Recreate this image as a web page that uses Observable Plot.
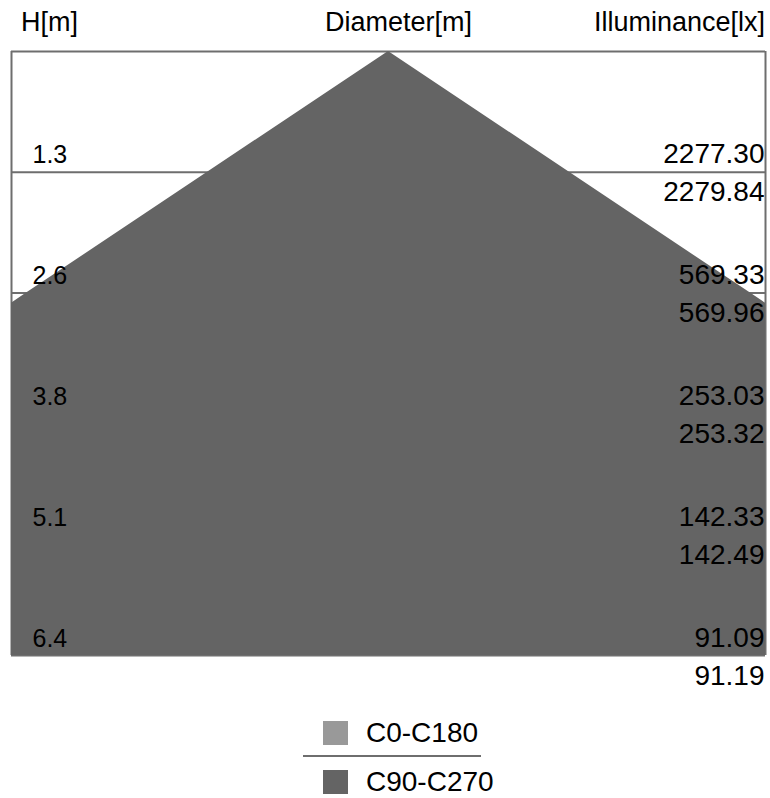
<!DOCTYPE html>
<html>
<head>
<meta charset="utf-8">
<script src="https://cdn.jsdelivr.net/npm/d3@7"></script>
<script src="https://cdn.jsdelivr.net/npm/@observablehq/plot@0.6"></script>
<style>
  html, body { margin: 0; padding: 0; background: #fff; }
  body { position: relative; width: 770px; height: 798px; overflow: hidden;
         font-family: "Liberation Sans", Arial, sans-serif; color: #000; }
  .hdr { position: absolute; top: 9px; font-size: 27px; line-height: 27px; white-space: nowrap; }
  #chart { position: absolute; left: 0; top: 40px; }
  .sw { position: absolute; left: 323px; width: 25px; height: 24px; }
  .lg { position: absolute; left: 366px; font-size: 28px; line-height: 28px; white-space: nowrap; }
</style>
</head>
<body>
<div class="hdr" style="left:21px">H[m]</div>
<div class="hdr" style="left:325px">Diameter[m]</div>
<div class="hdr" style="right:5px">Illuminance[lx]</div>
<div id="chart"></div>
<div class="sw" style="top:721px;background:#999999"></div>
<div class="lg" style="top:719px">C0-C180</div>
<div style="position:absolute;left:303px;top:755px;width:178px;height:2px;background:#6e6e6e"></div>
<div class="sw" style="top:770px;background:#646464"></div>
<div class="lg" style="top:768px">C90-C270</div>
<script>
// Mounting heights [m] (labels shown rounded to 0.1)
const heights = [1.28, 2.56, 3.84, 5.12, 6.4];
// Beam diameter at each height [m]
const diameters = [3.84, 7.68, 11.52, 15.36, 19.2];
// Illuminance [lx]
const illumC0C180 = [2277.30, 569.33, 253.03, 142.33, 91.09];
const illumC90C270 = [2279.84, 569.96, 253.32, 142.49, 91.19];
const series = ["C0-C180", "C90-C270"];
const seriesColors = ["#999999", "#646464"];

const coneRows = [{h: 0, d: 0}].concat(heights.map((h, i) => ({h, d: diameters[i]})));
const rows = heights.map((h, i) => ({h, c0: illumC0C180[i], c90: illumC90C270[i]}));
const lineColor = "#6e6e6e";

const chart = Plot.plot({
  width: 770,
  height: 660,
  marginLeft: 11,
  marginRight: 5,
  marginTop: 11,
  marginBottom: 45,
  x: {domain: [-4, 4], axis: null},
  y: {domain: [0, 6.4], reverse: true, axis: null},
  style: {fontFamily: "'Liberation Sans', Arial, sans-serif", background: "transparent"},
  marks: [
    Plot.ruleY([0, ...heights], {stroke: lineColor, strokeWidth: 2}),
    Plot.ruleX([-4, 4], {stroke: lineColor, strokeWidth: 2}),
    Plot.areaX(coneRows, {
      y: "h",
      x1: d => -d.d / 2,
      x2: d => d.d / 2,
      fill: seriesColors[1],
      clip: true
    }),
    Plot.text(rows, {
      x: -4, y: "h", dx: 21, dy: -9,
      text: d => d.h.toFixed(1),
      textAnchor: "start", lineAnchor: "bottom",
      fontSize: 25, fontFamily: "'Liberation Sans Narrow', 'Arial Narrow', sans-serif",
      fill: "#000"
    }),
    Plot.text(rows, {
      x: 4, y: "h", dx: -1, dy: -9,
      text: d => d.c0.toFixed(2),
      textAnchor: "end", lineAnchor: "bottom",
      fontSize: 28, fill: "#000"
    }),
    Plot.text(rows, {
      x: 4, y: "h", dx: -1, dy: 29,
      text: d => d.c90.toFixed(2),
      textAnchor: "end", lineAnchor: "bottom",
      fontSize: 28, fill: "#000"
    })
  ]
});
document.getElementById("chart").appendChild(chart);
</script>
</body>
</html>
